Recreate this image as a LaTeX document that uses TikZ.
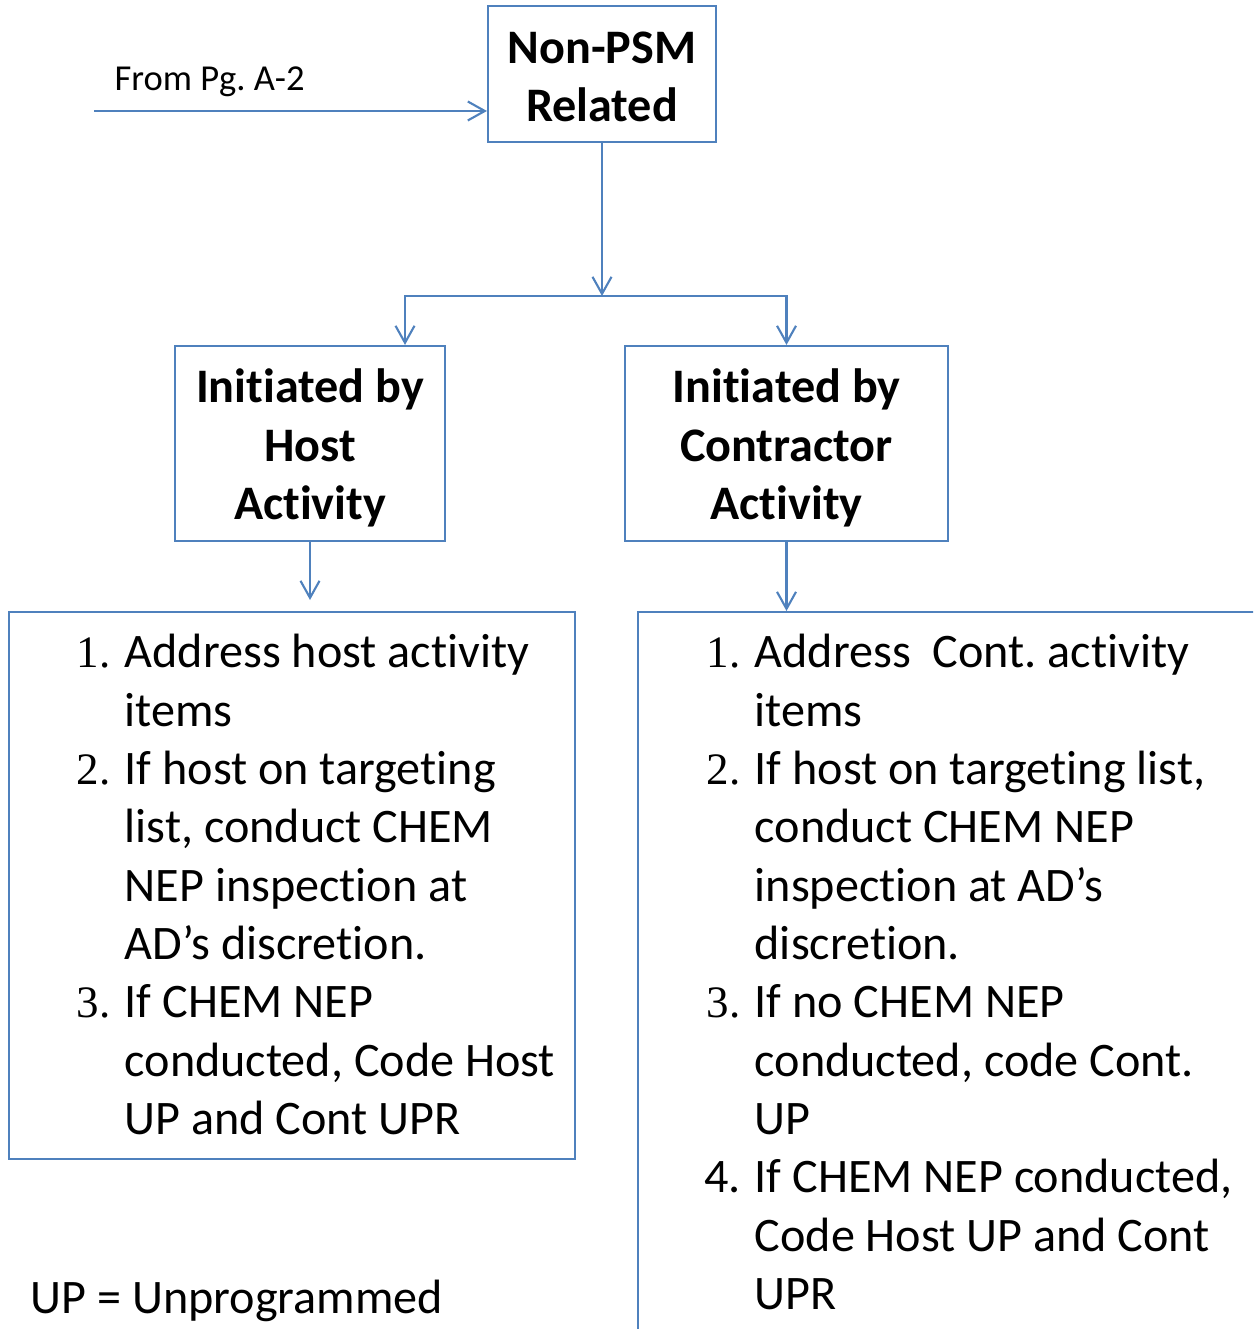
\documentclass[tikz,border=0pt]{standalone}
\usepackage{fontspec}
\setmainfont{Carlito}[Ligatures=NoCommon]
\newfontfamily\numfont{Liberation Serif}
\usepackage{tikz}
\usetikzlibrary{positioning,calc,arrows.meta}
\definecolor{boxblue}{HTML}{4F81BD}
\frenchspacing
\newcommand{\lstrut}{\rule{0pt}{0.4cm}}
\newcommand{\itemno}[1]{\llap{{\numfont\fontsize{12.8}{16.6}\selectfont #1}\hspace{0.14cm}}}

\begin{document}
\begin{tikzpicture}[
		flowbox/.style={draw=boxblue,line width=0.6pt,inner sep=0pt},
		arr/.style={draw=boxblue,line width=0.6pt,-{Straight Barb[length=1.7mm,width=1.9mm]}},
		bigbold/.style={font=\fontsize{13.7}{16.6}\selectfont\bfseries,align=center},
		listtext/.style={font=\fontsize{13.7}{16.6}\selectfont,align=left,inner sep=0pt,anchor=north west}]
		\useasboundingbox (0,0) rectangle (12.53,-13.29);
		\clip (0,0) rectangle (12.53,-13.29);
		
		\node[flowbox,bigbold,minimum width=2.28cm,minimum height=1.36cm] (nonpsm) at (6.02,-0.74) {};
		\node[bigbold,shift={(0,-0.03)}] (nonpsmtext) at (nonpsm.center) {Non-PSM\\Related};
		\coordinate (from) at (0.94,-1.11);
		\node[anchor=base west,inner sep=0pt,font=\fontsize{10.4}{12}\selectfont] (fromlbl) at (1.14,-0.91) {From Pg. A-2};
		\draw[arr] (from)--(from-|nonpsm.west);
		
		\node[flowbox,minimum width=2.7cm,minimum height=1.95cm] (host) at (3.10,-4.435) {};
		\node[bigbold,shift={(0,-0.045)}] (hosttext) at (host.center) {Initiated by\\Host\\Activity};
		\node[flowbox,minimum width=3.23cm,minimum height=1.95cm] (cont) at (7.865,-4.435) {};
		\node[bigbold,shift={(0,-0.045)}] (conttext) at (cont.center) {Initiated by\\Contractor\\Activity};
		\coordinate (split) at (6.02,-2.96);
		\draw[arr] (nonpsm.south)--(split);
		\draw[arr] (split)-|($(host.north)+(0.95,0)$);
		\draw[arr] (split)-|(cont.north);
		
		\node[flowbox,anchor=north west,minimum width=5.66cm,minimum height=5.47cm] (hostlist) at (0.08,-6.11) {};
		\coordinate[shift={(0,0.11)}] (hostin) at (host.south|-hostlist.north);
		\draw[arr] (host.south)--(hostin);
		\node[listtext,shift={(1.16,-0.16)}] (hostitems) at (hostlist.north west) {\lstrut\itemno{1.}Address host activity\\
			items\\
			\itemno{2.}If host on targeting\\
			list, conduct CHEM\\
			NEP inspection at\\
			AD’s discretion.\\
			\itemno{3.}If CHEM NEP\\
			conducted, Code Host\\
			UP and Cont UPR};
		
		\node[flowbox,anchor=north west,minimum width=7cm,minimum height=8cm] (contlist) at (6.37,-6.11) {};
		\draw[arr] (cont.south)--(cont.south|-contlist.north);
		\node[listtext,shift={(1.17,-0.16)}] (contitems) at (contlist.north west) {\lstrut\itemno{1.}Address\ \ Cont. activity\\
			items\\
			\itemno{2.}If host on targeting list,\\
			conduct CHEM NEP\\
			inspection at AD’s\\
			discretion.\\
			\itemno{3.}If no CHEM NEP\\
			conducted, code Cont.\\
			UP\\
			\llap{4.\hspace{0.14cm}}If CHEM NEP conducted,\\
			Code Host UP and Cont\\
			UPR};
		
		\node[anchor=base west,inner sep=0pt,font=\fontsize{13.7}{16.6}\selectfont] (legend) at (0.30,-13.13) {UP = Unprogrammed};
	\end{tikzpicture}
\end{document}
